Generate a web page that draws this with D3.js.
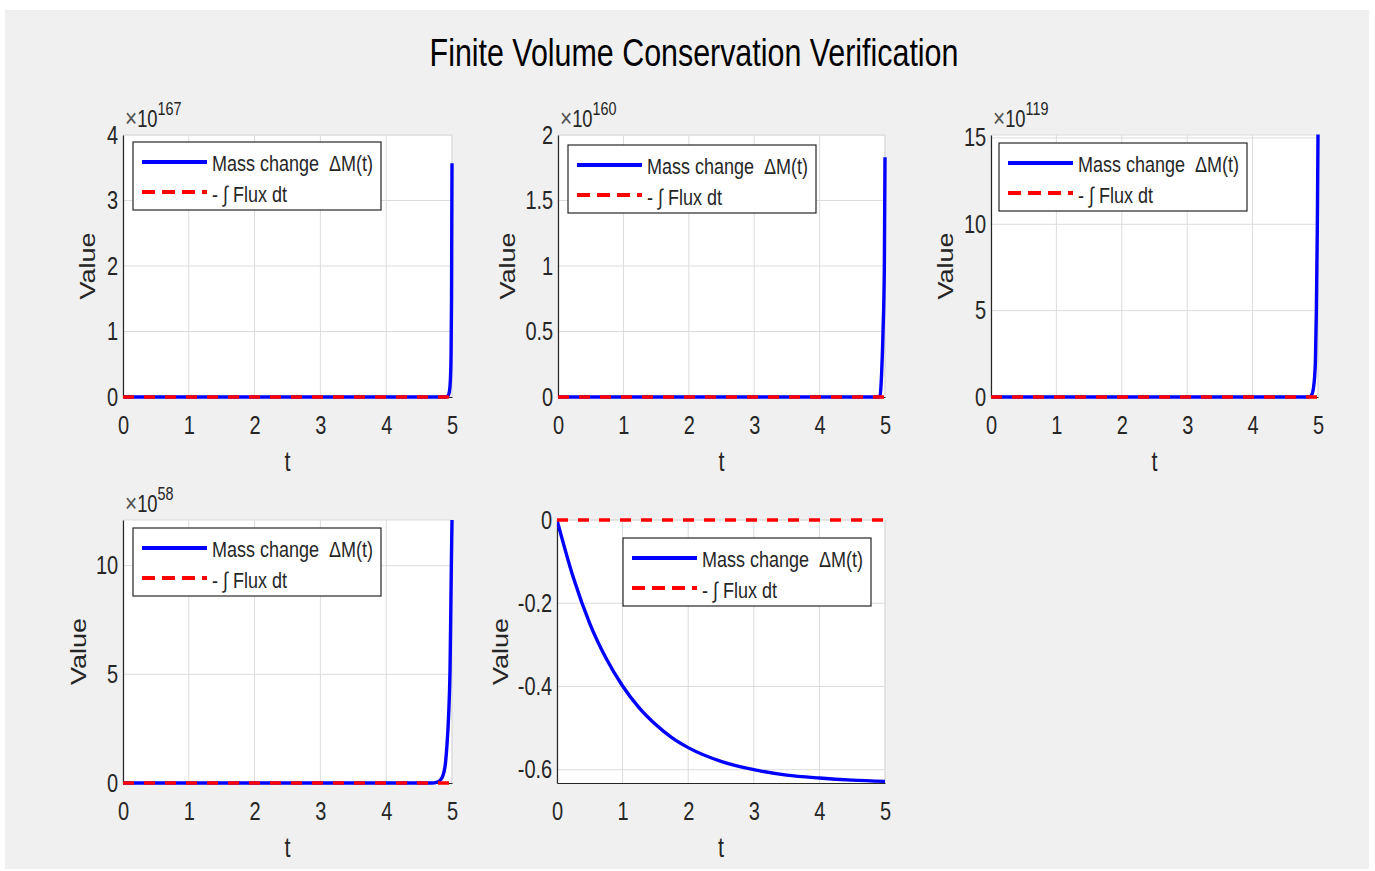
<!DOCTYPE html>
<html>
<head>
<meta charset="utf-8">
<script src="https://cdn.jsdelivr.net/npm/d3@7"></script>
<style>
  body { margin: 0; background: #fff; }
  svg { display: block; font-family: "Liberation Sans", Arial, sans-serif; }
</style>
</head>
<body>
<svg id="fig" width="1375" height="871"></svg>
<script>
// ---- data ----
var figTitle = "Finite Volume Conservation Verification"
var seriesNames = ["Mass change  \u0394M(t)", "- \u222B Flux dt"]
var timeTicks = [0, 1, 2, 3, 4, 5]

// panel 1 (x10^167)
var tA = [0, 4.9, 4.94, 4.96, 4.975, 4.985, 4.993, 5.0]
var massA = [0, 0, 0.02, 0.08, 0.25, 0.6, 1.5, 3.57]
// panel 2 (x10^160)
var tB = [0, 4.92, 4.95, 4.97, 4.99, 5.0]
var massB = [0, 0, 0.2, 0.5, 1.0, 1.83]
// panel 3 (x10^119)
var tC = [0, 4.86, 4.9, 4.93, 4.96, 4.975, 4.99, 5.0]
var massC = [0, 0, 0.1, 0.5, 2.0, 5.0, 10.0, 15.2]
// panel 4 (x10^58)
var tD = [0, 4.7, 4.75, 4.8, 4.85, 4.9, 4.92, 4.95, 4.97, 4.99, 5.0]
var massD = [0, 0, 0.02, 0.08, 0.25, 0.9, 1.6, 3.2, 5.2, 10.0, 12.1]
// panel 5
var tE = [0, 0.25, 0.5, 0.75, 1, 1.25, 1.5, 1.75, 2, 2.5, 3, 3.5, 4, 4.5, 5]
var massE = [0, -0.139, -0.249, -0.333, -0.399, -0.451, -0.491, -0.523, -0.547, -0.580, -0.600, -0.613, -0.620, -0.625, -0.628]

// -integral of flux, zero in every panel
var fluxT = [0, 5]
var fluxV = [0, 0]

var exponents = ["167", "160", "119", "58", null]
var yTicksA = [0, 1, 2, 3, 4]
var yTicksB = [0, 0.5, 1, 1.5, 2]
var yTicksC = [0, 5, 10, 15]
var yTicksD = [0, 5, 10]
var yTicksE = [-0.6, -0.4, -0.2, 0]

// ---- layout ----
var SX = 0.8   // reference text is horizontally condensed
var INK = "#262626"
var GRID = "#dcdcdc"

var panels = [
  { t: tA, m: massA, ticks: yTicksA, yDom: [0, 4],      box: [123, 452, 135, 397], leg: [133, 142], labX: 87 },
  { t: tB, m: massB, ticks: yTicksB, yDom: [0, 2],      box: [558, 885, 135, 397], leg: [568, 145], labX: 507 },
  { t: tC, m: massC, ticks: yTicksC, yDom: [0, 15.17],  box: [991, 1318, 135, 397], leg: [999, 143], labX: 945 },
  { t: tD, m: massD, ticks: yTicksD, yDom: [0, 12.1],   box: [123, 452, 520, 783], leg: [133, 528], labX: 78 },
  { t: tE, m: massE, ticks: yTicksE, yDom: [-0.632, 0], box: [557, 885, 520, 783], leg: [623, 538], labX: 500 }
]

var svg = d3.select("#fig")

svg.append("rect")
  .attr("x", 5).attr("y", 10)
  .attr("width", 1364).attr("height", 859)
  .attr("fill", "#f0f0f0")

function sqText(sel, x, y, str, size, anchor) {
  return sel.append("text")
    .attr("transform", "translate(" + x + "," + y + ") scale(" + SX + ",1)")
    .attr("text-anchor", anchor || "start")
    .attr("fill", INK)
    .style("font-size", size + "px")
    .style("white-space", "pre")
    .text(str)
}

sqText(svg, 694, 66, figTitle, 38, "middle").attr("fill", "#000")

panels.forEach(function (p, i) {
  var L = p.box[0], R = p.box[1], T = p.box[2], B = p.box[3]
  var x = d3.scaleLinear().domain([0, 5]).range([L, R])
  var y = d3.scaleLinear().domain(p.yDom).range([B, T])
  var g = svg.append("g")

  g.append("rect")
    .attr("x", L).attr("y", T)
    .attr("width", R - L).attr("height", B - T)
    .attr("fill", "#fff")

  // grid
  g.selectAll(".gx").data(timeTicks).enter().append("line")
    .attr("x1", function (d) { return x(d) }).attr("x2", function (d) { return x(d) })
    .attr("y1", T).attr("y2", B)
    .attr("stroke", GRID)
  g.selectAll(".gy").data(p.ticks).enter().append("line")
    .attr("x1", L).attr("x2", R)
    .attr("y1", function (d) { return y(d) }).attr("y2", function (d) { return y(d) })
    .attr("stroke", GRID)
  g.append("path")
    .attr("d", "M" + L + "," + T + "H" + R + "V" + B)
    .attr("fill", "none").attr("stroke", GRID)

  // axes
  var ya = g.append("g")
    .attr("transform", "translate(" + L + ",0)")
    .call(d3.axisLeft(y).tickValues(p.ticks).tickSize(0).tickPadding(6).tickFormat(function (d) { return String(d) }))
  var xa = g.append("g")
    .attr("transform", "translate(0," + B + ")")
    .call(d3.axisBottom(x).tickValues(timeTicks).tickSize(0).tickPadding(19).tickFormat(function (d) { return String(d) }))

  ;[ya, xa].forEach(function (a) {
    a.select(".domain").attr("stroke", INK).attr("stroke-width", 1.2)
    a.selectAll("text")
      .attr("fill", INK)
      .attr("transform", "scale(" + SX + ",1)")
      .style("font-size", "25px")
      .style("font-family", "\"Liberation Sans\", Arial, sans-serif")
  })

  // axis labels
  sqText(g, (L + R) / 2, B + 74, "t", 27, "middle")
  g.append("text")
    .attr("transform", "translate(" + (p.labX + 8) + "," + ((T + B) / 2) + ") scale(" + SX + ",1) rotate(-90)")
    .attr("text-anchor", "middle")
    .attr("fill", INK)
    .style("font-size", "27px")
    .text("Value")

  // exponent
  if (exponents[i]) {
    var ex = sqText(g, L + 2, T - 8, "", 23)
    ex.append("tspan").style("font-size", "26px").attr("fill", "#555").text("\u00D7")
    ex.append("tspan").text("10")
    ex.append("tspan").attr("dy", -12).style("font-size", "18px").text(exponents[i])
  }

  // clip for blue curve
  g.append("clipPath").attr("id", "clip" + i)
    .append("rect").attr("x", L).attr("y", T - 2).attr("width", R - L + 2).attr("height", B - T + 4)

  var line = d3.line()
    .x(function (d) { return x(d[0]) })
    .y(function (d) { return y(d[1]) })
    .curve(d3.curveMonotoneX)

  g.append("path")
    .datum(d3.zip(p.t, p.m))
    .attr("clip-path", "url(#clip" + i + ")")
    .attr("d", line)
    .attr("fill", "none")
    .attr("stroke", "#0000ff")
    .attr("stroke-width", 3.4)

  g.append("path")
    .datum(d3.zip(fluxT, fluxV))
    .attr("d", line)
    .attr("fill", "none")
    .attr("stroke", "#ff0000")
    .attr("stroke-width", 3.4)
    .attr("stroke-dasharray", "11,10")

  // legend
  var lg = g.append("g").attr("transform", "translate(" + p.leg[0] + "," + p.leg[1] + ")")
  lg.append("rect")
    .attr("width", 248).attr("height", 68)
    .attr("fill", "#fff").attr("stroke", INK).attr("stroke-width", 1.2)
  lg.append("line")
    .attr("x1", 9).attr("x2", 74).attr("y1", 20).attr("y2", 20)
    .attr("stroke", "#0000ff").attr("stroke-width", 4)
  lg.append("line")
    .attr("x1", 9).attr("x2", 74).attr("y1", 50).attr("y2", 50)
    .attr("stroke", "#ff0000").attr("stroke-width", 4)
    .attr("stroke-dasharray", "13,7")
  sqText(lg, 79, 29, seriesNames[0], 22.5)
  sqText(lg, 79, 60, seriesNames[1], 22.5)
})
</script>
</body>
</html>
